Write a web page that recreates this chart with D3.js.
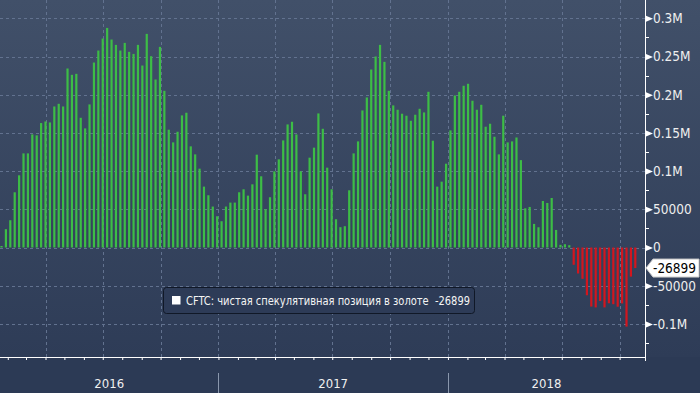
<!DOCTYPE html>
<html><head><meta charset="utf-8">
<script src="https://cdnjs.cloudflare.com/ajax/libs/d3/7.8.5/d3.min.js"></script>
<style>
html,body{margin:0;padding:0;background:#2c3a55;}
svg{display:block;}
text{font-family:"DejaVu Sans Condensed","DejaVu Sans",sans-serif;}
</style></head>
<body>
<svg id="chart" width="700" height="393"></svg>
<script>
// ---- data ----
const firstReport = "2016-01-22"; // weekly CFTC reports (Fridays)
const values = [
  2000,24000,35700,72300,94500,123200,123200,148000,146800,162900,
  165000,163700,184600,188100,184600,234300,226000,227300,169800,155900,
  187300,242100,257800,273500,287400,272200,265200,257800,267800,256100,
  253400,265200,238200,279600,250400,219900,262600,205100,154200,137600,
  151500,172900,176400,132400,121900,103200,79700,68400,53600,40900,
  34400,53600,58800,58800,72300,76200,67900,82700,121500,93200,
  50100,65800,99700,115400,140200,161100,164600,148000,99700,69700,
  117600,130700,175500,155400,104500,76200,37000,26600,27900,74900,
  123200,138900,179400,196400,233000,250000,265200,243000,205100,186000,
  180300,175100,172500,165900,173800,181600,176800,203800,139800,79700,
  86200,109700,153300,199000,203800,211700,214300,192100,180300,186800,
  158100,162000,145000,121900,172500,137600,138900,144000,114400,51300,
  53100,30900,26500,60900,58300,64800,23000,3500,4300,3000,
  -22600,-34000,-41000,-62500,-77300,-78400,-70000,-78400,-73000,-74200,
  -77500,-73200,-103500,-38100,-26899
];
const yTicks = [-100000,-50000,0,50000,100000,150000,200000,250000,300000];
const yTickLabels = ["-0.1M","-50000","0","50000","0.1M","0.15M","0.2M","0.25M","0.3M"];
const yMinor = [-125000,-75000,-25000,25000,75000,125000,175000,225000,275000];
const years = ["2016","2017","2018"];
const legendText = "CFTC: чистая спекулятивная позиция в золоте  -26899";
const lastLabel = "-26899";

// ---- layout ----
const W = 700, H = 393, axisX = 645, axisY = 357;
const svg = d3.select("#chart");
const start = new Date(firstReport + "T00:00:00Z");
const dates = values.map((v,i) => d3.utcDay.offset(start, 7*i));

const x = d3.scaleUtc()
  .domain([new Date(Date.UTC(2016,0,1)), new Date(Date.UTC(2018,9,1))])
  .range([-11.7, 619.6]);
const y = d3.scaleLinear().domain([-143300, 323950]).range([axisY, 0]);

// background
const defs = svg.append("defs");
const g1 = defs.append("linearGradient").attr("id","bg").attr("x1",0).attr("y1",0).attr("x2",0).attr("y2",1);
g1.append("stop").attr("offset","0%").attr("stop-color","#415069");
g1.append("stop").attr("offset","100%").attr("stop-color","#2e3c57");
svg.append("rect").attr("width",W).attr("height",H).attr("fill","#2c3a55");
svg.append("rect").attr("width",W).attr("height",axisY).attr("fill","url(#bg)");

// grid
const grid = svg.append("g").attr("stroke","#62728f").attr("stroke-width",1).attr("stroke-dasharray","3,3");
grid.selectAll("line.h").data(yTicks).join("line")
  .attr("x1",0).attr("x2",axisX)
  .attr("y1",d=>Math.round(y(d))+0.5).attr("y2",d=>Math.round(y(d))+0.5);
const quarters = d3.utcMonth.every(3).range(x.invert(0), x.invert(axisX));
grid.selectAll("line.v").data(quarters).join("line")
  .attr("y1",0).attr("y2",axisY)
  .attr("x1",d=>Math.round(x(d))+0.5).attr("x2",d=>Math.round(x(d))+0.5);

// bars
const bw = 2.2;
svg.append("g").selectAll("rect").data(values).join("rect")
  .attr("x",(d,i)=>x(dates[i]) - bw/2)
  .attr("width",bw)
  .attr("y",d=>y(Math.max(0,d)))
  .attr("height",d=>Math.abs(y(d)-y(0)))
  .attr("fill",d=> d>=0 ? "#3dbd46" : "#d2161e");

// bottom axis
const xAxis = d3.axisBottom(x).ticks(d3.utcMonth.every(1)).tickSize(3).tickFormat("");
const gx = svg.append("g").attr("transform",`translate(0,${axisY})`).call(xAxis);
gx.select(".domain").remove();
gx.selectAll(".tick").filter(d=>x(d)<0||x(d)>axisX).remove();
gx.selectAll(".tick line").attr("stroke","#ffffff");
svg.append("line").attr("x1",0).attr("x2",axisX+0.5).attr("y1",axisY+0.5).attr("y2",axisY+0.5).attr("stroke","#ffffff");
svg.append("line").attr("x1",axisX+0.5).attr("x2",axisX+0.5).attr("y1",0).attr("y2",axisY+4).attr("stroke","#ffffff");

// year separators + labels
const yearStarts = [x.invert(0), new Date(Date.UTC(2017,0,1)), new Date(Date.UTC(2018,0,1)), x.invert(axisX)];
svg.append("g").selectAll("line").data(yearStarts.slice(1,3)).join("line")
  .attr("x1",d=>Math.round(x(d))+0.5).attr("x2",d=>Math.round(x(d))+0.5)
  .attr("y1",373).attr("y2",H).attr("stroke","#8a97ad");
svg.append("g").selectAll("text").data(years).join("text")
  .attr("x",(d,i)=>(x(yearStarts[i])+x(yearStarts[i+1]))/2)
  .attr("y",388).attr("text-anchor","middle")
  .attr("fill","#f0f0f0").attr("font-size","13px").text(d=>d);

// right axis
const yAxis = d3.axisRight(y).tickValues(yTicks).tickFormat((d,i)=>yTickLabels[i]).tickSize(0).tickPadding(8);
const gy = svg.append("g").attr("transform",`translate(${axisX},0)`).call(yAxis);
gy.select(".domain").remove();
gy.selectAll(".tick text").attr("fill","#eeeeee").attr("font-size","13.5px")
  .attr("font-family","'DejaVu Sans Condensed','DejaVu Sans',sans-serif");
gy.selectAll(".tick").append("path")
  .attr("d","M1,-3L8,0L1,3Z").attr("fill","#ffffff");
svg.append("g").selectAll("line").data(yMinor).join("line")
  .attr("x1",axisX).attr("x2",axisX+4)
  .attr("y1",d=>Math.round(y(d))+0.5).attr("y2",d=>Math.round(y(d))+0.5)
  .attr("stroke","#ffffff");

// last value label
const ly = y(values[values.length-1]);
svg.append("path")
  .attr("d",`M646,${ly}L653,${ly-9}L699,${ly-9}L699,${ly+9}L653,${ly+9}Z`)
  .attr("fill","#ffffff").attr("stroke","#c8c8c8");
svg.append("text").attr("x",653).attr("y",ly+5).attr("fill","#000000")
  .attr("font-size","13.5px").text(lastLabel);

// legend
const lg = svg.append("g");
lg.append("rect").attr("x",163.5).attr("y",287.5).attr("width",311).attr("height",26).attr("rx",3)
  .attr("fill","#2d3b57").attr("stroke","#101827");
lg.append("rect").attr("x",172).attr("y",296).attr("width",8.5).attr("height",8.5).attr("fill","#ffffff");
lg.append("text").attr("x",186).attr("y",305).attr("fill","#f4f4f4").attr("font-size","12px")
  .style("white-space","pre").attr("xml:space","preserve")
  .attr("textLength",284).attr("lengthAdjust","spacingAndGlyphs").text(legendText);
</script>
</body></html>
